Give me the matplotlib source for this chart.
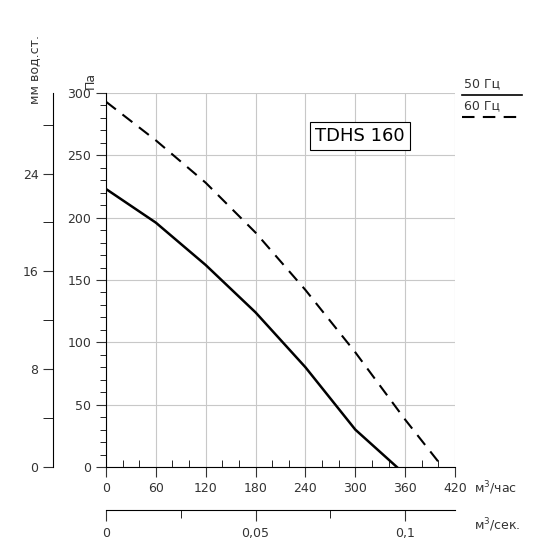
import matplotlib
matplotlib.use("Agg")
import matplotlib.pyplot as plt
import numpy as np

q50 = [0, 60, 120, 180, 240, 300, 350]
p50 = [223, 196, 162, 124, 80, 30, 0]
q60 = [0, 60, 120, 180, 240, 300, 360, 405]
p60 = [293, 262, 228, 188, 142, 92, 38, 0]
xticks = [0, 60, 120, 180, 240, 300, 360, 420]
yticks = [0, 50, 100, 150, 200, 250, 300]

fig = plt.figure(figsize=(5.5, 5.5), dpi=100)
W = H = 550
def fx(px): return px / W
def fy(py): return 1 - py / H

ax = fig.add_axes([fx(106), fy(467), fx(455) - fx(106), fy(93) - fy(467)])
ax.set_xlim(0, 420); ax.set_ylim(0, 300)
ax.plot(q50, p50, color='black', lw=1.8)
ax.plot(q60, p60, color='black', lw=1.5, ls=(0, (6, 4)))
ax.set_xticks(xticks); ax.set_yticks(yticks)
ax.set_xticks(np.arange(0, 421, 20), minor=True)
ax.set_yticks(np.arange(0, 301, 10), minor=True)
ax.grid(True, which='major', color='#c8c8c8', lw=0.8)
for s in ['top', 'right']:
    ax.spines[s].set_visible(False)
ax.tick_params(which='major', direction='out', length=7, labelsize=9, colors='#333333')
ax.tick_params(which='minor', direction='out', length=4)
ax.tick_params(axis='x', which='minor', direction='in', length=5)
ax.set_axisbelow(True)
fig.text(fx(474), fy(488), 'м$^3$/час', fontsize=9, ha='left', va='center', color='#333333')
fig.text(fx(90), fy(80), 'Па', fontsize=9, rotation=90, ha='center', va='center', color='#333333')
ax.text(0.6, 0.885, 'TDHS 160', transform=ax.transAxes, fontsize=13, ha='left', va='center',
        bbox=dict(boxstyle='square,pad=0.3', fc='white', ec='black', lw=0.8))

# mm axis
ax2 = fig.add_axes([fx(53), fy(467), 0.001, fy(93) - fy(467)])
ax2.set_ylim(0, 300 / 9.80665)
for s in ['top', 'right', 'bottom']:
    ax2.spines[s].set_visible(False)
ax2.set_xticks([])
ax2.set_yticks([0, 8, 16, 24])
ax2.set_yticks([4, 12, 20, 28], minor=True)
ax2.tick_params(which='major', length=7, labelsize=9, colors='#333333')
ax2.tick_params(which='minor', length=7, direction='out')
ax2.set_yticklabels(['0', '8', '16', '24'])
fig.text(fx(35), fy(35), 'мм вод.ст.', rotation=90, fontsize=9, ha='center', va='top', color='#333333')

# m3/s axis
ax3 = fig.add_axes([fx(106), fy(510), fx(455) - fx(106), 0.001])
ax3.set_xlim(0, 420 / 3600)
for s in ['top', 'right', 'left']:
    ax3.spines[s].set_visible(False)
ax3.set_yticks([])
ax3.set_xticks([0, 0.05, 0.1])
ax3.set_xticklabels(['0', '0,05', '0,1'])
ax3.set_xticks([0.025, 0.075], minor=True)
ax3.tick_params(which='major', direction='out', length=8, labelsize=9, colors='#333333', pad=4)
ax3.tick_params(which='minor', direction='out', length=6)
fig.text(fx(474), fy(525), 'м$^3$/сек.', fontsize=9, ha='left', va='center', color='#333333')

# legend
fig.text(fx(464), fy(84), '50 Гц', fontsize=9, ha='left', va='center', color='#333333')
fig.add_artist(plt.Line2D([fx(462), fx(522)], [fy(95), fy(95)], color='black', lw=1.2))
fig.text(fx(464), fy(106), '60 Гц', fontsize=9, ha='left', va='center', color='#333333')
fig.add_artist(plt.Line2D([fx(462), fx(522)], [fy(117), fy(117)], color='black', lw=1.5, ls=(0, (6, 4))))

fig.savefig('out.png', dpi=100)
